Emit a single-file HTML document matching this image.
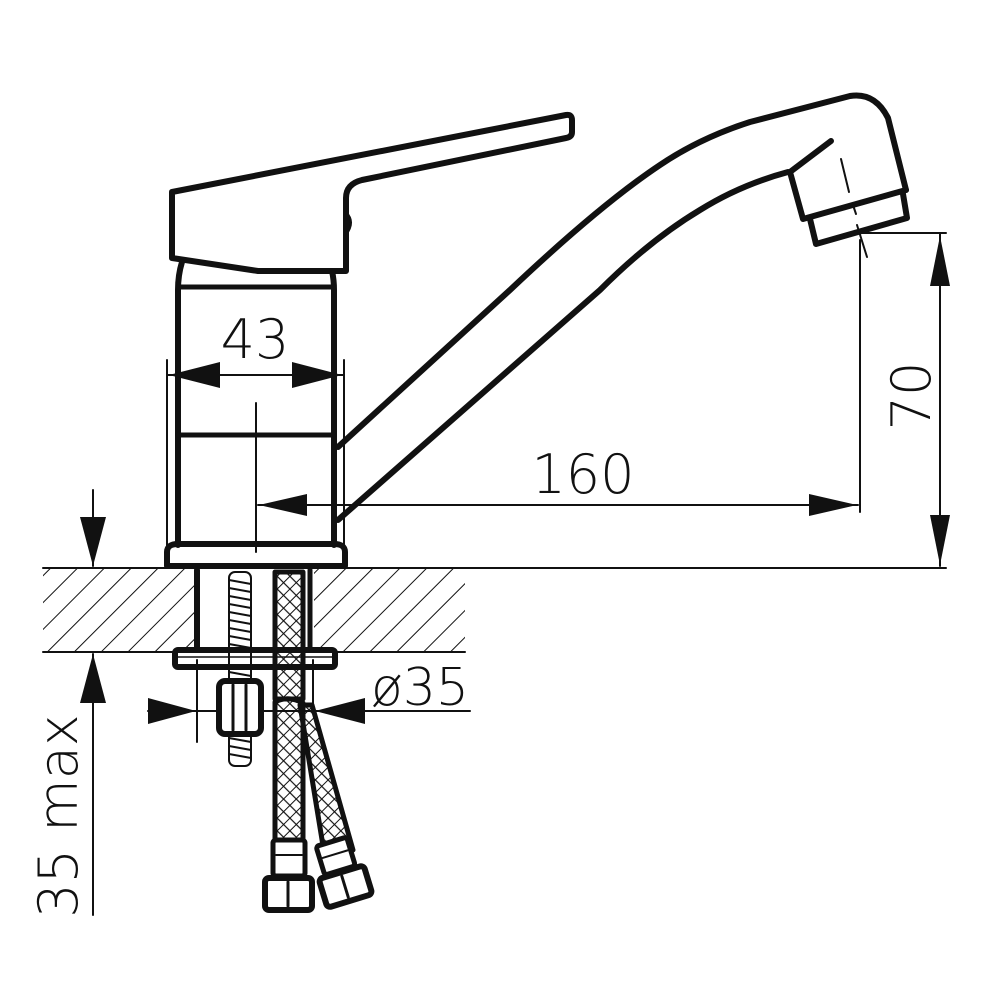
<!DOCTYPE html>
<html><head><meta charset="utf-8"><style>
html,body{margin:0;padding:0;background:#fff;}
svg{display:block;}
text{font-family:"DejaVu Sans","Liberation Sans",sans-serif;font-weight:200;fill:#111;}
</style></head><body>
<svg width="1000" height="1000" viewBox="0 0 1000 1000" xmlns="http://www.w3.org/2000/svg">
<defs>
<pattern id="h" patternUnits="userSpaceOnUse" width="19" height="19" patternTransform="rotate(45)">
<line x1="0" y1="0" x2="0" y2="19" stroke="#111" stroke-width="2"/>
</pattern>
<pattern id="b" patternUnits="userSpaceOnUse" width="9" height="9" patternTransform="rotate(45)">
<line x1="0" y1="0" x2="0" y2="9" stroke="#111" stroke-width="2"/>
<line x1="0" y1="4.5" x2="9" y2="4.5" stroke="#111" stroke-width="1.2"/>
</pattern>
<clipPath id="c"><rect x="43" y="568" width="153" height="84"/><rect x="314" y="568" width="151" height="84"/></clipPath>
</defs>
<g fill="none" stroke="#111" stroke-linejoin="round" stroke-linecap="round">
<rect x="43" y="568" width="422" height="84" fill="url(#h)" stroke="none" clip-path="url(#c)"/>
<line x1="43" y1="568" x2="946" y2="568" stroke-width="2"/>
<line x1="43" y1="652" x2="465" y2="652" stroke-width="2"/>
<path d="M172,192 L566,115 Q572,114 572,120 L572,132 Q572,137 566,138 L362,180 Q346,184 346,198 L346,271 L258,271 L172,258 Z" stroke-width="6"/>
<path d="M346,212 Q356,222 346,235 Z" fill="#111" stroke-width="2"/>
<path d="M182,262 Q178,275 178,290 L178,545" stroke-width="6"/>
<path d="M332,271 Q334,280 334,290 L334,545" stroke-width="6"/>
<line x1="178" y1="287" x2="334" y2="287" stroke-width="5"/>
<line x1="178" y1="435" x2="334" y2="435" stroke-width="5"/>
<path d="M167,566 L167,552 Q167,544 178,544 L334,544 Q345,544 345,552 L345,566 Z" stroke-width="6"/>
<path d="M338,447 L510,290 Q600,205 660,165 Q700,138 750,122 L850,96 Q875,92 888,118 L906,190" stroke-width="6"/>
<path d="M338,520 L600,290 Q650,240 700,210 Q740,185 788,172" stroke-width="6"/>
<path d="M831,141 L790,172 L803,219 L906,190" stroke-width="6"/>
<path d="M810,219 L816,244 L907,218 L903,194" stroke-width="6"/>
<line x1="841" y1="159" x2="849" y2="192" stroke-width="2"/>
<line x1="853" y1="205" x2="856" y2="214" stroke-width="2"/>
<line x1="857" y1="225" x2="867" y2="257" stroke-width="2"/>
<line x1="860" y1="233" x2="946" y2="233" stroke-width="2"/>
<line x1="860" y1="240" x2="860" y2="512" stroke-width="2"/>
<line x1="940" y1="233" x2="940" y2="566" stroke-width="2"/>
<polygon points="940,236 930,286 950,286" fill="#111" stroke="none"/>
<polygon points="940,565 930,515 950,515" fill="#111" stroke="none"/>
<line x1="256" y1="403" x2="256" y2="552" stroke-width="2"/>
<line x1="258" y1="505" x2="858" y2="505" stroke-width="2"/>
<polygon points="259,505 307,494 307,516" fill="#111" stroke="none"/>
<polygon points="857,505 809,494 809,516" fill="#111" stroke="none"/>
<line x1="167" y1="360" x2="167" y2="552" stroke-width="2"/>
<line x1="344" y1="360" x2="344" y2="552" stroke-width="2"/>
<line x1="168" y1="375" x2="343" y2="375" stroke-width="2"/>
<polygon points="169,375 220,362 220,388" fill="#111" stroke="none"/>
<polygon points="342,375 292,362 292,388" fill="#111" stroke="none"/>
<line x1="93" y1="490" x2="93" y2="566" stroke-width="2"/>
<polygon points="93,566 80,517 106,517" fill="#111" stroke="none"/>
<line x1="93" y1="654" x2="93" y2="915" stroke-width="2"/>
<polygon points="93,654 80,703 106,703" fill="#111" stroke="none"/>
<line x1="197" y1="570" x2="197" y2="650" stroke-width="6"/>
<line x1="310" y1="570" x2="310" y2="650" stroke-width="5"/>
<rect x="175" y="650" width="160" height="17" rx="3" stroke-width="6"/>
<line x1="178" y1="657" x2="332" y2="657" stroke-width="1.5"/>
<line x1="197" y1="660" x2="197" y2="742" stroke-width="2"/>
<line x1="313" y1="660" x2="313" y2="712" stroke-width="2"/>
<line x1="148" y1="711" x2="470" y2="711" stroke-width="2"/>
<polygon points="196,711 148,698 148,724" fill="#111" stroke="none"/>
<polygon points="315,711 365,698 365,724" fill="#111" stroke="none"/>
<rect x="229" y="572" width="22" height="194" rx="6" stroke-width="2"/>
<path d="M229,580 L251,584 M229,588 L251,592 M229,596 L251,600 M229,604 L251,608 M229,612 L251,616 M229,620 L251,624 M229,628 L251,632 M229,636 L251,640 M229,644 L251,648 M229,672 L251,676 M229,738 L251,742 M229,746 L251,750 M229,754 L251,758" stroke-width="2"/>
<rect x="219" y="681" width="42" height="53" rx="6" fill="#fff" stroke-width="6"/>
<line x1="233" y1="685" x2="233" y2="730" stroke-width="3"/>
<line x1="246" y1="685" x2="246" y2="730" stroke-width="3"/>
<rect x="275" y="572" width="28" height="127" fill="url(#b)" stroke-width="5"/>
<path d="M300,705 L312,705 L353,850 L325,858 Z" fill="url(#b)" stroke-width="5"/>
<path d="M275,702 Q288,695 303,703 L303,840 L275,840 Z" fill="url(#b)" stroke-width="5"/>
<rect x="273" y="840" width="32" height="36" rx="3" fill="#fff" stroke-width="5"/>
<line x1="276" y1="855" x2="302" y2="855" stroke-width="2"/>
<rect x="265" y="878" width="47" height="32" rx="4" fill="#fff" stroke-width="6"/>
<line x1="288" y1="882" x2="288" y2="906" stroke-width="3"/>
<g transform="rotate(-17 343 880)">
<rect x="327" y="840" width="32" height="30" rx="3" fill="#fff" stroke-width="5"/>
<line x1="330" y1="853" x2="356" y2="853" stroke-width="2"/>
<rect x="320" y="872" width="47" height="30" rx="4" fill="#fff" stroke-width="6"/>
<line x1="343" y1="876" x2="343" y2="898" stroke-width="3"/>
</g>
</g>
<text x="255" y="358" font-size="54" text-anchor="middle">43</text>
<text x="583" y="493" font-size="54" text-anchor="middle">160</text>
<text x="0" y="0" font-size="54" text-anchor="middle" transform="translate(930,396) rotate(-90)">70</text>
<text x="0" y="0" font-size="54" text-anchor="middle" transform="translate(77,816) rotate(-90)">35 max</text>
<text x="420" y="705" font-size="52" text-anchor="middle">ø35</text>
</svg>
</body></html>
